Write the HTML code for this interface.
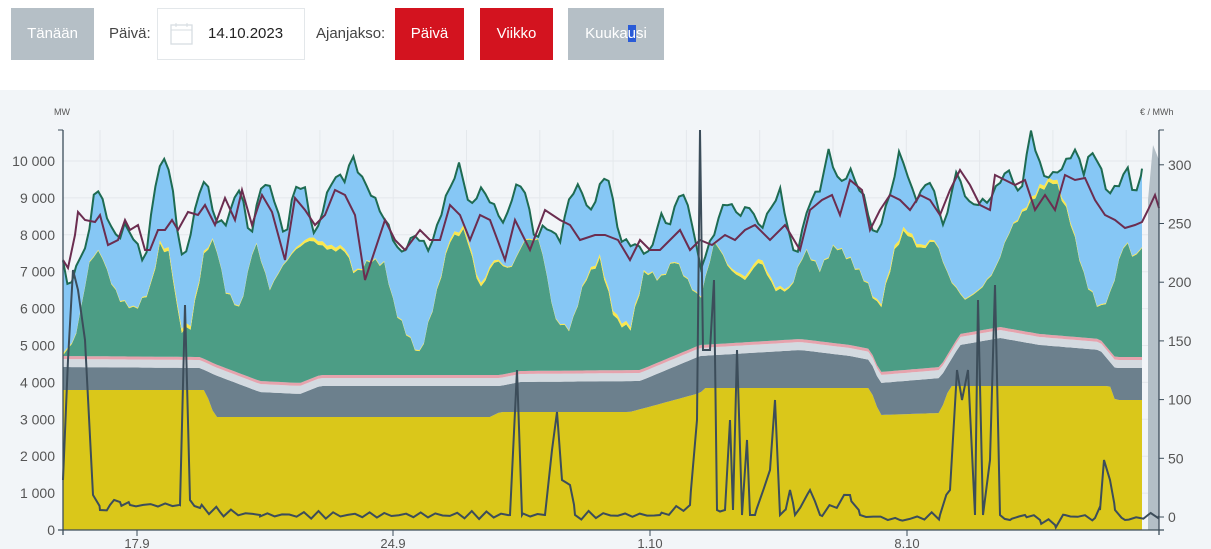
<!DOCTYPE html>
<html><head><meta charset="utf-8"><style>
body{margin:0;width:1211px;height:549px;background:#fff;font-family:"Liberation Sans",sans-serif;position:relative;overflow:hidden}
.b{position:absolute;top:8px;height:52px;line-height:52px;text-align:center;font-size:15px;color:#fff}
.l{position:absolute;top:8px;height:52px;line-height:52px;font-size:15px;color:#444}
</style></head><body>
<div class="b" style="left:11px;width:83px;background:#b5bfc6">Tänään</div>
<div class="l" style="left:109px">Päivä:</div>
<div style="position:absolute;left:157px;top:8px;width:146px;height:50px;border:1px solid #e3e7ea"></div>
<svg style="position:absolute;left:170px;top:22px" width="24" height="24"><rect x="1" y="3" width="21" height="19" fill="none" stroke="#d7dde2" stroke-width="1.3"/><line x1="1" y1="8" x2="22" y2="8" stroke="#d7dde2"/><line x1="6" y1="1" x2="6" y2="5" stroke="#d7dde2"/><line x1="17" y1="1" x2="17" y2="5" stroke="#d7dde2"/></svg>
<div class="l" style="left:208px;color:#222">14.10.2023</div>
<div class="l" style="left:316px">Ajanjakso:</div>
<div class="b" style="left:395px;width:69px;background:#d3131f">Päivä</div>
<div class="b" style="left:480px;width:73px;background:#d3131f">Viikko</div>
<div class="b" style="left:568px;width:96px;background:#b5bfc6">Kuuka<span style="background:#2a5bd7">u</span>si</div>
<div style="position:absolute;left:0;top:90px;width:1211px;height:459px;background:#f2f5f8"></div>
<svg id="c" style="position:absolute;left:0;top:0" width="1211" height="549" font-family="Liberation Sans, sans-serif"></svg>
<script>
function P(s){return s.trim().split(/\s*,\s*/).map(p=>p.split(':').map(Number));}
function interp(pts,x){for(let i=0;i<pts.length-1;i++){if(x<=pts[i+1][0]){let a=pts[i],b=pts[i+1];return a[1]+(b[1]-a[1])*(x-a[0])/(b[0]-a[0]);}}return pts[pts.length-1][1];}
const X0=63,X1=1142;const xs=[];for(let x=X0;x<=X1;x+=4.4)xs.push(x);xs.push(X1);
const nuc=P("63:390,205:390,215:417,490:417,500:412,630:412,700:393,705:388,870:388,880:415,940:413,950:386,1110:386,1115:400,1142:400");
const gry=P("63:367,200:368,215:375,260:392,300:394,320:386,500:386,520:382,640:381,700:356,800:350,850:356,870:360,880:383,940:378,960:345,1000:338,1040:345,1100:350,1115:368,1142:368");
const grn=P("63:355,75:340,90:260,100:250,110:280,120:300,135:310,150:290,160:245,170:255,180:330,190:330,205:250,215:240,225:290,240:310,255:240,270:290,280:270,295:250,310:240,330:250,345:250,355:275,370:260,385:265,395:310,410:340,420:355,435:300,450:240,465:230,480:290,495:260,510:270,525:240,540:240,555:320,570:330,585:280,600:260,615:320,630:330,645:270,660:280,675:260,690:285,700:300,715:240,730:270,745:280,760:260,775:290,790:290,805:250,820:270,835:245,850:260,865:280,880:310,895:250,905:230,920:250,935:240,950:280,965:300,980:290,995:270,1010:230,1025:210,1040:190,1055:180,1070:220,1085:280,1100:310,1110:295,1125:240,1135:260,1142:245");
const blu=P("63:260,68:290,75:270,82:255,90:230,95:182,102:200,110:225,118:240,125:225,135:240,145:265,155:185,163:157,170:170,180:250,185:260,195:210,205:175,215:220,225:225,240:185,250:240,262:182,272:190,285:240,295:185,305:190,315:240,325:200,335:175,345:180,352:155,360:175,375:200,390:230,400:255,415:235,430:250,445:200,460:163,470:210,480:188,490:200,505:225,515:185,525:190,535:240,545:225,560:240,570:195,580:185,590:215,600:185,608:175,620:240,635:245,650:255,660:215,670:225,680:190,690:210,700:270,715:230,725:200,740:215,750:205,760:230,770:210,780:190,795:260,810:200,820:190,828:150,840:185,850:170,865:200,875:240,890:195,900:150,915:200,930:180,945:230,955:170,970:205,990:200,1000:180,1010:170,1020:200,1030:130,1045:180,1060:170,1075:150,1085:175,1090:150,1098:160,1108:195,1118:185,1128:168,1135:200,1142:170");
const pur=P("63:260,68:268,75:235,78:212,85:220,95:222,100:215,108:245,118:240,125:220,130:230,138:225,145:250,150:250,158:230,165:230,172:220,178:230,188:212,198:215,205:205,215:225,225:198,235:220,242:190,252:225,262:195,272:212,285:260,295:198,305:210,315:225,325:215,335:190,345:195,355:215,365:280,375:250,385:220,395:240,405:250,420:230,430:240,440:240,450:205,460:215,470:240,480:215,490:220,505:260,515:220,530:250,545:210,560:220,570:225,580:240,595:235,605:235,618:240,630:260,640:240,650:250,660:250,670:240,680:230,690:250,700:240,712:245,725:235,735:240,745:230,755:225,770:240,785:225,800:250,810:210,822:200,832:195,840:215,850:180,862:190,870:230,880:210,890:195,900:200,910:210,920:195,930:200,940:215,950:190,960:170,970:185,980:205,990:210,995:175,1005:180,1015:185,1025:180,1035:210,1045:195,1055:210,1065:175,1075:180,1085:178,1095:200,1105:215,1115:220,1125:228,1135:225,1142:222,1148:210,1155:195,1159:208");
const pr=P("63:480,68:360,73:270,78:290,85:340,93:495,100:510,110:505,120:502,130:505,180:505,185:305,190:500,200:508,220:512,260:515,510:515,517:370,522:515,545:515,552:450,557:412,562:480,570:485,575:515,660:515,690:505,697:420,700:130,703:350,710:350,714:280,717:510,725:510,730:420,733:510,737:350,742:515,747:440,750:515,755:515,770:470,775:400,780:515,785:510,790:490,795:515,810:490,820:515,850:495,860:515,900:520,940:515,950:490,957:370,962:400,968:370,975:515,978:300,983:515,990:460,995:285,1000:515,1010:520,1025:515,1040:520,1055:525,1065:515,1095:518,1100:510,1104:460,1110:480,1115:510,1125:520,1140:518,1148:515,1159:516");
const f=(a,o=0)=>xs.map(x=>[x,interp(a,x)+o]);
const nucA=f(nuc),gryA=f(gry),lgA=f(gry,-8),pkA=f(gry,-11);
const grA=xs.map((x,i)=>[x,Math.min(interp(grn,x)+3*Math.sin(x*0.7),pkA[i][1])]);
const ylA=xs.map((x,i)=>[x,grA[i][1]-1-3*Math.max(0,Math.sin(x/23))]);
const blA=xs.map((x,i)=>[x,Math.min(interp(blu,x)+3*Math.sin(x*0.9),ylA[i][1])]);
const pxs=[];for(let x=63;x<=1159;x+=7.3)pxs.push(x);
pr.forEach(p=>pxs.push(p[0]));pxs.sort((a,b)=>a-b);
const prA=pxs.map(x=>{let y=interp(pr,x);if(y>=495&&!pr.some(p=>p[0]==x))y+=3*Math.sin(x*0.37)+1.5*Math.sin(x*1.3);return [x,y];});
const pts=a=>a.map(p=>p[0].toFixed(1)+","+p[1].toFixed(1)).join(" L");
function band(top,bot,col){return `<path d="M${pts(top)} L${pts(bot.slice().reverse())} Z" fill="${col}"/>`;}
const base=xs.map(x=>[x,530]);
let s="";
for(let i=0;i<=10;i++){let y=530-i*36.9;s+=`<line x1="63" x2="1159" y1="${y}" y2="${y}" stroke="#e4e8ec"/>`;s+=`<text x="55" y="${y+5}" text-anchor="end" font-size="14" fill="#555">${i==0?"0":(i*1000).toLocaleString('fi-FI').replace(/\s/g,' ')}</text>`;}
for(let x=100;x<1159;x+=73.3)s+=`<line x1="${x}" x2="${x}" y1="130" y2="530" stroke="#e4e8ec"/>`;
s+=band(nucA,base,"#dac71a")+band(gryA,nucA,"#6c808d")+band(lgA,gryA,"#d3dae0")+band(pkA,lgA,"#e6a3ad")+band(grA,pkA,"#4c9d85")+band(ylA,grA,"#fbe84e")+band(blA,ylA,"#86c7f5");
s+=`<path d="M1148,530 L1148,200 L1153,145 L1159,160 L1159,530Z" fill="#b3bfc7"/>`;
s+=`<path d="M${pts(blA)}" fill="none" stroke="#1e6b52" stroke-width="2"/>`;
s+=`<path d="M${pts(pur)}" fill="none" stroke="#6b2d50" stroke-width="2"/>`;
s+=`<path d="M${pts(prA)}" fill="none" stroke="#3c4d5a" stroke-width="2"/>`;
s+=`<line x1="63" x2="63" y1="130" y2="535" stroke="#3c4d5a" stroke-width="1.3"/><line x1="1159" x2="1159" y1="130" y2="535" stroke="#3c4d5a" stroke-width="1.3"/><line x1="58" x2="1164" y1="530" y2="530" stroke="#3c4d5a" stroke-width="1.3"/>`;
s+=`<line x1="58" x2="63" y1="130" y2="130" stroke="#3c4d5a"/><line x1="1159" x2="1164" y1="130" y2="130" stroke="#3c4d5a"/>`;
for(let i=0;i<=6;i++){let y=517-i*58.7;s+=`<line x1="1159" x2="1164" y1="${y}" y2="${y}" stroke="#3c4d5a"/><text x="1168" y="${y+5}" font-size="14" fill="#555">${i*50}</text>`;}
[["17.9",137],["24.9",393],["1.10",650],["8.10",907]].forEach(([t,x])=>{s+=`<line x1="${x}" x2="${x}" y1="530" y2="536" stroke="#3c4d5a"/><text x="${x}" y="548" text-anchor="middle" font-size="13" fill="#555">${t}</text>`;});
s+=`<text x="54" y="115" font-size="9" fill="#555">MW</text><text x="1140" y="115" font-size="9" fill="#555">€ / MWh</text>`;
document.getElementById('c').innerHTML=s;
</script>
</body></html>
